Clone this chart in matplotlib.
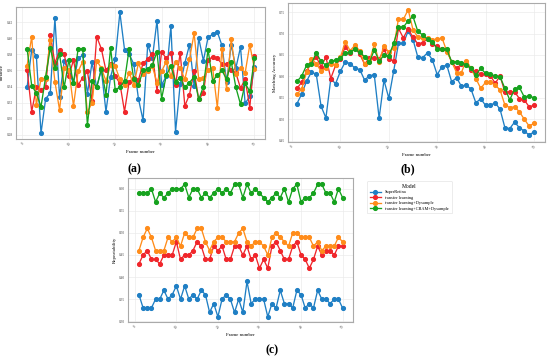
import matplotlib
matplotlib.use("Agg")
import matplotlib.pyplot as plt
import numpy as np

frames = np.arange(1, 51)
models = ["SuperRetina", "transfer learning", "transfer learning+Dysample",
          "transfer learning+CBAM+Dysample"]
colors = ["#1f7fc4", "#f0262b", "#ff8c1a", "#16a21e"]

# (a) variance
var_sr = [0.339, 0.386, 0.378, 0.282, 0.325, 0.332, 0.425, 0.327, 0.372, 0.358,
          0.344, 0.375, 0.379, 0.331, 0.370, 0.339, 0.361, 0.309, 0.352, 0.374,
          0.432, 0.386, 0.380, 0.368, 0.325, 0.298, 0.392, 0.375, 0.422, 0.342,
          0.353, 0.415, 0.284, 0.343, 0.369, 0.392, 0.341, 0.400, 0.372, 0.401,
          0.405, 0.408, 0.391, 0.346, 0.392, 0.363, 0.389, 0.319, 0.328, 0.364]
var_tl = [0.361, 0.309, 0.339, 0.336, 0.339, 0.404, 0.369, 0.385, 0.380, 0.353,
          0.373, 0.342, 0.351, 0.359, 0.322, 0.402, 0.387, 0.360, 0.368, 0.353,
          0.344, 0.309, 0.346, 0.351, 0.348, 0.369, 0.374, 0.381, 0.335, 0.383,
          0.375, 0.382, 0.342, 0.382, 0.316, 0.330, 0.359, 0.324, 0.332, 0.373,
          0.377, 0.375, 0.368, 0.368, 0.361, 0.357, 0.338, 0.349, 0.314, 0.378]
var_dy = [0.366, 0.402, 0.317, 0.350, 0.350, 0.398, 0.346, 0.311, 0.363, 0.361,
          0.316, 0.359, 0.371, 0.308, 0.320, 0.372, 0.363, 0.347, 0.367, 0.365,
          0.349, 0.342, 0.357, 0.342, 0.369, 0.355, 0.359, 0.365, 0.345, 0.359,
          0.371, 0.353, 0.370, 0.363, 0.349, 0.374, 0.406, 0.349, 0.351, 0.361,
          0.363, 0.314, 0.387, 0.337, 0.399, 0.355, 0.363, 0.357, 0.392, 0.362]
var_cb = [0.387, 0.341, 0.332, 0.315, 0.352, 0.388, 0.363, 0.380, 0.339, 0.373,
          0.344, 0.387, 0.387, 0.292, 0.347, 0.339, 0.362, 0.330, 0.388, 0.336,
          0.339, 0.347, 0.387, 0.349, 0.342, 0.360, 0.362, 0.367, 0.383, 0.325,
          0.354, 0.365, 0.346, 0.351, 0.339, 0.345, 0.352, 0.324, 0.340, 0.386,
          0.347, 0.354, 0.360, 0.349, 0.371, 0.339, 0.318, 0.344, 0.334, 0.375]

# (b) matching accuracy
acc_sr = [0.536, 0.559, 0.589, 0.610, 0.605, 0.530, 0.503, 0.594, 0.583, 0.612,
          0.634, 0.630, 0.619, 0.616, 0.591, 0.602, 0.603, 0.502, 0.591, 0.549,
          0.612, 0.677, 0.677, 0.706, 0.686, 0.645, 0.644, 0.655, 0.639, 0.604,
          0.623, 0.626, 0.587, 0.597, 0.577, 0.580, 0.570, 0.538, 0.548, 0.532,
          0.533, 0.538, 0.523, 0.480, 0.478, 0.493, 0.480, 0.472, 0.463, 0.470]
acc_tl = [0.572, 0.586, 0.612, 0.632, 0.645, 0.623, 0.645, 0.595, 0.626, 0.641,
          0.669, 0.654, 0.666, 0.652, 0.628, 0.644, 0.644, 0.640, 0.663, 0.640,
          0.637, 0.712, 0.690, 0.711, 0.691, 0.676, 0.679, 0.688, 0.675, 0.670,
          0.663, 0.662, 0.633, 0.619, 0.628, 0.630, 0.615, 0.613, 0.605, 0.605,
          0.601, 0.584, 0.601, 0.563, 0.563, 0.564, 0.548, 0.545, 0.529, 0.532]
acc_dy = [0.558, 0.571, 0.610, 0.641, 0.630, 0.612, 0.619, 0.630, 0.627, 0.645,
          0.681, 0.660, 0.673, 0.659, 0.629, 0.636, 0.675, 0.634, 0.672, 0.656,
          0.667, 0.735, 0.733, 0.756, 0.709, 0.692, 0.689, 0.689, 0.686, 0.687,
          0.690, 0.658, 0.634, 0.609, 0.609, 0.637, 0.619, 0.595, 0.572, 0.586,
          0.586, 0.580, 0.568, 0.533, 0.527, 0.529, 0.517, 0.500, 0.484, 0.490]
acc_cb = [0.588, 0.601, 0.626, 0.630, 0.655, 0.635, 0.626, 0.635, 0.638, 0.643,
          0.654, 0.657, 0.664, 0.656, 0.646, 0.633, 0.662, 0.636, 0.649, 0.648,
          0.677, 0.715, 0.715, 0.730, 0.740, 0.705, 0.697, 0.687, 0.680, 0.665,
          0.664, 0.663, 0.634, 0.634, 0.632, 0.627, 0.619, 0.603, 0.619, 0.607,
          0.605, 0.601, 0.599, 0.572, 0.545, 0.570, 0.574, 0.552, 0.554, 0.550]

# (c) repeatability
rep_sr = [0.36, 0.33, 0.33, 0.33, 0.35, 0.35, 0.37, 0.35, 0.36, 0.38,
          0.35, 0.38, 0.35, 0.36, 0.35, 0.37, 0.36, 0.32, 0.34, 0.31,
          0.35, 0.36, 0.35, 0.32, 0.35, 0.32, 0.39, 0.34, 0.35, 0.35,
          0.35, 0.31, 0.34, 0.33, 0.37, 0.34, 0.34, 0.33, 0.37, 0.36,
          0.33, 0.34, 0.33, 0.37, 0.35, 0.35, 0.34, 0.35, 0.35, 0.33]
rep_tl = [0.43, 0.45, 0.46, 0.44, 0.44, 0.43, 0.45, 0.45, 0.45, 0.48,
          0.44, 0.45, 0.45, 0.46, 0.48, 0.47, 0.44, 0.44, 0.47, 0.46,
          0.47, 0.44, 0.44, 0.47, 0.47, 0.45, 0.47, 0.44, 0.45, 0.42,
          0.44, 0.42, 0.47, 0.48, 0.46, 0.44, 0.44, 0.47, 0.48, 0.45,
          0.44, 0.42, 0.44, 0.47, 0.45, 0.46, 0.46, 0.45, 0.47, 0.47]
rep_dy = [0.46, 0.49, 0.51, 0.49, 0.46, 0.46, 0.46, 0.49, 0.48, 0.49,
          0.47, 0.50, 0.49, 0.49, 0.51, 0.51, 0.48, 0.46, 0.48, 0.49,
          0.49, 0.48, 0.48, 0.48, 0.50, 0.51, 0.48, 0.47, 0.48, 0.48,
          0.47, 0.45, 0.49, 0.50, 0.49, 0.48, 0.47, 0.50, 0.50, 0.49,
          0.49, 0.49, 0.47, 0.48, 0.46, 0.47, 0.47, 0.47, 0.49, 0.48]
rep_cb = [0.59, 0.59, 0.59, 0.60, 0.57, 0.59, 0.58, 0.59, 0.60, 0.60,
          0.60, 0.61, 0.58, 0.60, 0.60, 0.58, 0.59, 0.58, 0.59, 0.60,
          0.59, 0.60, 0.59, 0.61, 0.61, 0.58, 0.61, 0.59, 0.60, 0.59,
          0.58, 0.57, 0.58, 0.59, 0.58, 0.60, 0.57, 0.60, 0.61, 0.57,
          0.58, 0.58, 0.59, 0.61, 0.61, 0.59, 0.59, 0.57, 0.60, 0.58]

plt.rcParams['font.family'] = ['Liberation Serif', 'DejaVu Serif']

fig = plt.figure(figsize=(5.5, 3.59), dpi=100)


def style_axes(ax, ylabel, yticks, ylim, xlim):
    ax.set_xlim(*xlim)
    ax.set_ylim(*ylim)
    ax.set_xticks([0, 10, 20, 30, 40, 50])
    ax.set_yticks(yticks)
    ax.set_yticklabels([f"{v:.2f}" for v in yticks])
    ax.tick_params(labelsize=2.5, length=0, pad=2, colors="#444444")
    for lab in ax.get_xticklabels():
        lab.set_rotation(45)
    ax.grid(True, color="#ebebeb", linewidth=0.5)
    ax.set_axisbelow(True)
    for sp in ax.spines.values():
        sp.set_color("#aaaaaa")
        sp.set_linewidth(0.8)
    ax.set_xlabel("Frame number", fontsize=3.5, labelpad=2)
    ax.set_ylabel(ylabel, fontsize=3.5, labelpad=2)


def draw(ax, series, ms=2.7, lw=0.95):
    for vals, c, name in zip(series, colors, models):
        ax.plot(frames, vals, color=c, marker="o", markersize=ms,
                linewidth=lw, label=name)


ax_a = fig.add_axes([0.029, 0.613, 0.453, 0.368])
draw(ax_a, [var_sr, var_tl, var_dy, var_cb])
style_axes(ax_a, "Variance", [0.28, 0.30, 0.32, 0.34, 0.36, 0.38, 0.40, 0.42],
           (0.275, 0.439), (-1.4, 52.3))

ax_b = fig.add_axes([0.524, 0.605, 0.467, 0.386])
draw(ax_b, [acc_sr, acc_tl, acc_dy, acc_cb])
style_axes(ax_b, "Matching Accuracy", [0.45, 0.50, 0.55, 0.60, 0.65, 0.70, 0.75],
           (0.447, 0.771), (-0.8, 52.3))

ax_c = fig.add_axes([0.233, 0.104, 0.408, 0.401])
draw(ax_c, [rep_sr, rep_tl, rep_dy, rep_cb])
style_axes(ax_c, "Repeatability", [0.30, 0.35, 0.40, 0.45, 0.50, 0.55, 0.60],
           (0.299, 0.625), (-1.6, 52.4))

leg = ax_c.legend(title="Model", loc="upper left", bbox_to_anchor=(1.055, 0.99),
                  fontsize=3.2, title_fontsize=4, frameon=True, borderpad=0.6,
                  handlelength=2.5, labelspacing=0.3, fancybox=True)
leg.get_frame().set_edgecolor("#dddddd")
leg.get_frame().set_linewidth(0.5)

fig.text(0.245, 0.529, "(a)", fontsize=8.5, fontweight="bold", ha="center", va="center")
fig.text(0.742, 0.529, "(b)", fontsize=8.5, fontweight="bold", ha="center", va="center")
fig.text(0.495, 0.025, "(c)", fontsize=8.5, fontweight="bold", ha="center", va="center")

fig.savefig("out.png", dpi=100)
